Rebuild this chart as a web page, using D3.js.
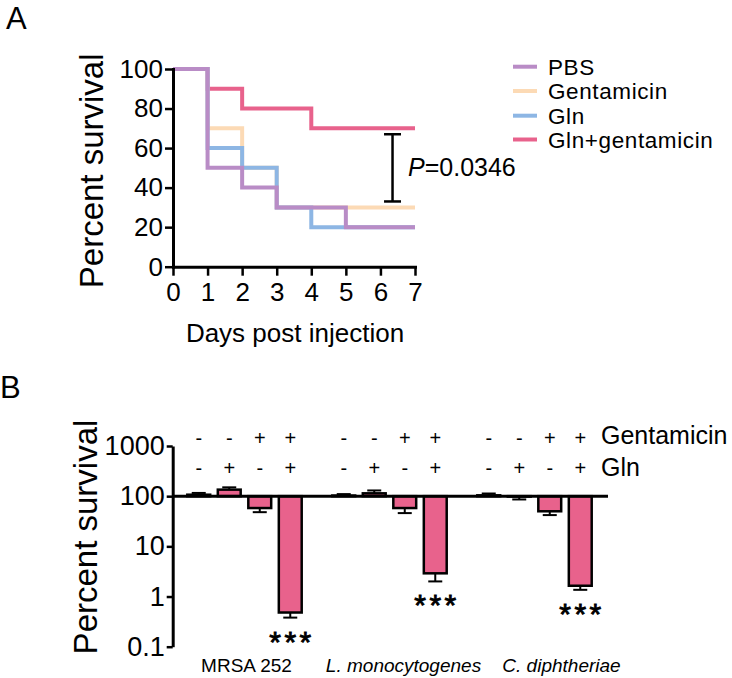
<!DOCTYPE html>
<html>
<head>
<meta charset="utf-8">
<script src="https://cdn.jsdelivr.net/npm/d3@7"></script>
<style>
  html, body { margin: 0; padding: 0; background: #fff; }
  svg { display: block; }
  text { font-family: "Liberation Sans", Arial, Helvetica, sans-serif; fill: #000; }
</style>
</head>
<body>
<script>
// ---------------- Panel A data ----------------
const survivalDays = [0, 1, 2, 3, 4, 5, 6, 7];
const seriesNames = ["PBS", "Gentamicin", "Gln", "Gln+gentamicin"];
const pbsSurvival = [100, 50, 40, 30, 30, 20, 20, 20];
const gentamicinSurvival = [100, 70, 50, 30, 30, 30, 30, 30];
const glnSurvival = [100, 60, 50, 30, 20, 20, 20, 20];
const glnGentSurvival = [100, 90, 80, 80, 70, 70, 70, 70];
const seriesColors = ["#B98CC6", "#FCDAB5", "#8DB6E4", "#E8628C"];
const yTicksA = [0, 20, 40, 60, 80, 100];
const pBracket = [33, 67];
const pBracketDay = 6.35;
const pLabel = "=0.0346";

// ---------------- Panel B data ----------------
const strains = ["MRSA 252", "L. monocytogenes", "C. diphtheriae"];
const treatments = ["PBS", "Gln", "Gentamicin", "Gln+gentamicin"];
const gentamicinSigns = ["-", "-", "+", "+"];
const glnSigns = ["-", "+", "-", "+"];
const mrsaValues = [107, 135, 58, 0.48];
const mrsaErrEnd = [116, 150, 48, 0.38];
const lmonoValues = [103, 114, 58, 2.9];
const lmonoErrEnd = [110, 130, 46, 2.0];
const cdiphValues = [104, 98, 50, 1.64];
const cdiphErrEnd = [113, 86, 42, 1.36];
const significance = ["***", "***", "***"];
const yTicksB = [0.1, 1, 10, 100, 1000];

const barValues = [mrsaValues, lmonoValues, cdiphValues];
const barErrEnd = [mrsaErrEnd, lmonoErrEnd, cdiphErrEnd];

// ---------------- drawing ----------------
const svg = d3.select("body").append("svg")
  .attr("width", 732).attr("height", 678);

// Panel letters
svg.append("text").attr("x", 6).attr("y", 29).attr("font-size", 31).text("A");
svg.append("text").attr("x", 0).attr("y", 398).attr("font-size", 31).text("B");

// ===== Panel A =====
const xA = d3.scaleLinear().domain([0, 7]).range([173, 415]);
const yA = d3.scaleLinear().domain([0, 100]).range([266.7, 69]);

const line = d3.line()
  .x((d, i) => xA(survivalDays[i]))
  .y(d => yA(d))
  .curve(d3.curveStepAfter);

const allSeries = [pbsSurvival, gentamicinSurvival, glnSurvival, glnGentSurvival];
const drawOrder = [3, 1, 2, 0];
drawOrder.forEach(k => {
  svg.append("path")
    .attr("d", line(allSeries[k]))
    .attr("fill", "none")
    .attr("stroke", seriesColors[k])
    .attr("stroke-width", 4);
});

const xAxisA = svg.append("g")
  .attr("transform", `translate(0,${yA(0)})`)
  .call(d3.axisBottom(xA).tickValues(survivalDays).tickFormat(d3.format("d"))
    .tickSize(9).tickPadding(7).tickSizeOuter(0));
const yAxisA = svg.append("g")
  .attr("transform", `translate(${xA(0)},0)`)
  .call(d3.axisLeft(yA).tickValues(yTicksA).tickFormat(d3.format("d"))
    .tickSize(8).tickPadding(2).tickSizeOuter(0));
[xAxisA, yAxisA].forEach(g => {
  g.select(".domain").attr("stroke", "#000").attr("stroke-width", 3).attr("stroke-linecap", "square");
  g.selectAll(".tick line").attr("stroke", "#000").attr("stroke-width", 2.5);
  g.selectAll(".tick text").attr("font-size", 26).attr("font-family", "Liberation Sans, Arial, sans-serif").attr("fill", "#000");
});

svg.append("text")
  .attr("transform", `translate(103,${(yA(0) + yA(100)) / 2 + 3}) rotate(-90)`)
  .attr("text-anchor", "middle").attr("font-size", 33)
  .text("Percent survival");
svg.append("text")
  .attr("x", (xA(0) + xA(7)) / 2 + 1).attr("y", 342)
  .attr("text-anchor", "middle").attr("font-size", 26)
  .text("Days post injection");

// P-value bracket
const bx = xA(pBracketDay);
const bracket = svg.append("g").attr("stroke", "#000").attr("stroke-width", 2.5);
bracket.append("line").attr("x1", bx).attr("x2", bx).attr("y1", yA(pBracket[0])).attr("y2", yA(pBracket[1]));
pBracket.forEach(v => {
  bracket.append("line").attr("x1", bx - 8.5).attr("x2", bx + 8.5).attr("y1", yA(v)).attr("y2", yA(v));
});
const pText = svg.append("text")
  .attr("x", 408).attr("y", yA((pBracket[0] + pBracket[1]) / 2) + 8)
  .attr("font-size", 25);
pText.append("tspan").attr("font-style", "italic").text("P");
pText.append("tspan").text(pLabel);

// Legend
const legendY = [66.7, 91, 115.7, 139.5];
seriesNames.forEach((name, i) => {
  svg.append("line")
    .attr("x1", 513).attr("x2", 537).attr("y1", legendY[i]).attr("y2", legendY[i])
    .attr("stroke", seriesColors[i]).attr("stroke-width", 4);
  svg.append("text")
    .attr("x", 548).attr("y", legendY[i] + 8)
    .attr("font-size", 22.5).attr("letter-spacing", 0.6)
    .text(name);
});

// ===== Panel B =====
const xOuter = d3.scaleBand().domain(strains).range([172, 607]).padding(0);
const xInner = d3.scaleBand().domain(treatments)
  .range([(xOuter.bandwidth() - 114.4) / 2, (xOuter.bandwidth() + 114.4) / 2])
  .paddingInner(0.25).paddingOuter(0);
const yB = d3.scaleLog().domain([0.1, 1000]).range([646.7, 446]);

const bw = xInner.bandwidth();
strains.forEach((s, gi) => {
  const g = svg.append("g").attr("transform", `translate(${xOuter(s)},0)`);
  treatments.forEach((t, i) => {
    const v = barValues[gi][i];
    const e = barErrEnd[gi][i];
    const x0 = xInner(t);
    const cx = x0 + bw / 2;
    // error bar
    const yv = yB(v), ye = yB(e);
    g.append("line").attr("x1", cx).attr("x2", cx).attr("y1", yv).attr("y2", ye)
      .attr("stroke", "#000").attr("stroke-width", 2);
    g.append("line").attr("x1", cx - 7).attr("x2", cx + 7).attr("y1", ye).attr("y2", ye)
      .attr("stroke", "#000").attr("stroke-width", 2);
    // bar
    const top = Math.min(yv, yB(100)), bot = Math.max(yv, yB(100));
    g.append("rect")
      .attr("x", x0).attr("y", top).attr("width", bw).attr("height", bot - top)
      .attr("fill", "#E8628C").attr("stroke", "#000").attr("stroke-width", 2.5);
    // signs
    g.append("text").attr("x", cx).attr("y", 444.5).attr("text-anchor", "middle")
      .attr("font-size", 20).text(gentamicinSigns[i]);
    g.append("text").attr("x", cx).attr("y", 474.5).attr("text-anchor", "middle")
      .attr("font-size", 20).text(glnSigns[i]);
  });
  // significance stars under last bar
  const lastT = treatments[3];
  const cx = xInner(lastT) + bw / 2;
  g.append("text")
    .attr("x", cx + 1.75).attr("y", yB(barErrEnd[gi][3]) + 17 + 17)
    .attr("text-anchor", "middle").attr("font-size", 30)
    .attr("letter-spacing", 3.5)
    .attr("stroke", "#000").attr("stroke-width", 0.9)
    .text(significance[gi]);
});

// baseline at 100
svg.append("line")
  .attr("x1", 172).attr("x2", 608).attr("y1", yB(100)).attr("y2", yB(100))
  .attr("stroke", "#000").attr("stroke-width", 3);

const yAxisB = svg.append("g")
  .attr("transform", `translate(172.7,0)`)
  .call(d3.axisLeft(yB).tickValues(yTicksB).tickFormat(d => String(d)).tickSize(6).tickPadding(2).tickSizeOuter(0));
yAxisB.select(".domain").attr("stroke", "#000").attr("stroke-width", 3);
yAxisB.selectAll(".tick line").attr("stroke", "#000").attr("stroke-width", 2.5);
yAxisB.selectAll(".tick text").attr("font-size", 27).attr("font-family", "Liberation Sans, Arial, sans-serif").attr("fill", "#000");

svg.append("text")
  .attr("transform", `translate(97,537) rotate(-90)`)
  .attr("text-anchor", "middle").attr("font-size", 33)
  .text("Percent survival");

// treatment row labels
svg.append("text").attr("x", 601).attr("y", 444).attr("font-size", 25).text("Gentamicin");
svg.append("text").attr("x", 601).attr("y", 476).attr("font-size", 25).text("Gln");

// strain labels
const strainLabelShift = [2, 14, 27];
const italicStrain = [false, true, true];
strains.forEach((s, gi) => {
  svg.append("text")
    .attr("x", xOuter(s) + xOuter.bandwidth() / 2 + strainLabelShift[gi])
    .attr("y", 672).attr("text-anchor", "middle").attr("font-size", 19)
    .attr("font-style", italicStrain[gi] ? "italic" : "normal")
    .text(s);
});
</script>
</body>
</html>
